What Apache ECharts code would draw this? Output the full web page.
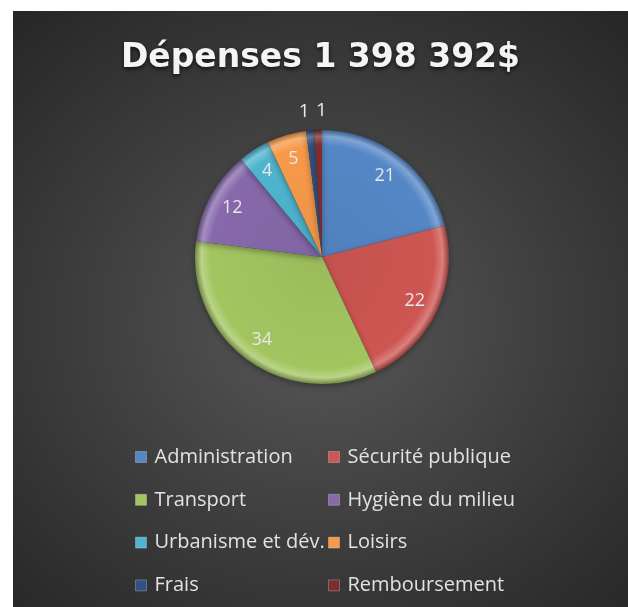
<!DOCTYPE html>
<html>
<head>
<meta charset="utf-8">
<script src="https://cdn.jsdelivr.net/npm/echarts@6/dist/echarts.min.js"></script>
<style>
  html, body { margin: 0; padding: 0; background: #fff; }
  #chart {
    position: absolute; left: 13px; top: 11px; width: 615px; height: 596px;
    background: radial-gradient(ellipse 75% 70% at 50% 52%, #585858 0%, #414141 45%, #262626 100%);
  }
</style>
</head>
<body>
<div id="chart"></div>
<script>
  // données du graphique
  var categories = ['Administration', 'Sécurité publique', 'Transport', 'Hygiène du milieu',
                    'Urbanisme et dév.', 'Loisirs', 'Frais', 'Remboursement'];
  var values = [21, 22, 34, 12, 4, 5, 1, 1];
  var colors = ['#5587c6', '#cd5652', '#a3c560', '#8769ab', '#4fb5cf', '#f79a4a', '#2f5283', '#7d2e2c'];
  var leftCol = ['Administration', 'Transport', 'Urbanisme et dév.', 'Frais'];
  var rightCol = ['Sécurité publique', 'Hygiène du milieu', 'Loisirs', 'Remboursement'];
  var outsideLabels = ['Frais', 'Remboursement'];

  var cx = 309, cy = 246, R = 127;
  var font = '"Open Sans", "Noto Sans", sans-serif';

  function shade(hex, amt) {
    var n = parseInt(hex.slice(1), 16);
    var r = (n >> 16) & 255, g = (n >> 8) & 255, b = n & 255;
    function f(c) { return Math.max(0, Math.min(255, Math.round(amt > 0 ? c + (255 - c) * amt : c * (1 + amt)))); }
    return 'rgb(' + f(r) + ',' + f(g) + ',' + f(b) + ')';
  }

  // effet biseauté approximatif
  function bevel(hex) {
    return {
      type: 'radial', x: cx, y: cy, r: R, global: true,
      colorStops: [
        { offset: 0, color: shade(hex, -0.05) },
        { offset: 0.88, color: hex },
        { offset: 0.95, color: shade(hex, 0.25) },
        { offset: 1, color: shade(hex, -0.3) }
      ]
    };
  }

  var pieData = categories.map(function (name, i) {
    return { name: name, value: values[i], itemStyle: { color: bevel(colors[i]) } };
  });
  var innerLabelData = categories.map(function (name, i) {
    return { name: name, value: values[i], label: { show: outsideLabels.indexOf(name) < 0 } };
  });
  var outerLabelData = categories.map(function (name, i) {
    var k = outsideLabels.indexOf(name);
    return { name: name, value: values[i], label: { show: k >= 0, offset: [k === 0 ? -4 : 4, 0] } };
  });

  function legendItems(list) {
    return list.map(function (name) {
      return { name: name, itemStyle: { color: colors[categories.indexOf(name)], borderColor: 'rgba(255,255,255,0.25)', borderWidth: 1 } };
    });
  }

  var legendBase = {
    orient: 'vertical',
    top: 430,
    icon: 'rect',
    itemWidth: 11,
    itemHeight: 11,
    itemGap: 20.8,
    selectedMode: false,
    textStyle: { color: '#e2e2e2', fontSize: 20, fontFamily: font, lineHeight: 22, padding: [0, 0, 0, 3] }
  };

  var labelStyle = { color: '#e8e8e8', fontSize: 18, fontFamily: font, formatter: '{c}' };

  var chart = echarts.init(document.getElementById('chart'));
  chart.setOption({
    backgroundColor: 'transparent',
    animation: false,
    title: {
      text: 'Dépenses 1 398 392$',
      left: 'center',
      top: 26,
      textStyle: {
        color: '#f4f4f4', fontSize: 33, fontWeight: 'bold', fontFamily: '"DejaVu Sans", sans-serif',
        textShadowColor: 'rgba(0,0,0,0.7)', textShadowBlur: 4, textShadowOffsetY: 2
      }
    },
    legend: [
      Object.assign({}, legendBase, { left: 117, data: legendItems(leftCol) }),
      Object.assign({}, legendBase, { left: 310, data: legendItems(rightCol) })
    ],
    series: [
      {
        type: 'pie',
        center: [cx, cy],
        radius: [0, R],
        startAngle: 90,
        clockwise: true,
        avoidLabelOverlap: false,
        label: { show: false },
        labelLine: { show: false },
        emphasis: { disabled: true },
        itemStyle: { borderWidth: 0, shadowBlur: 6, shadowColor: 'rgba(0,0,0,0.35)', shadowOffsetY: 2 },
        data: pieData
      },
      {
        type: 'pie',
        center: [cx, cy],
        radius: [72, R],
        startAngle: 90,
        silent: true,
        avoidLabelOverlap: false,
        itemStyle: { color: 'transparent' },
        label: Object.assign({ position: 'inside' }, labelStyle),
        labelLine: { show: false },
        labelLayout: { hideOverlap: false },
        emphasis: { disabled: true },
        data: innerLabelData
      },
      {
        type: 'pie',
        center: [cx, cy],
        radius: [132, 154],
        startAngle: 90,
        silent: true,
        avoidLabelOverlap: false,
        itemStyle: { color: 'transparent' },
        label: Object.assign({ position: 'inside' }, labelStyle, { fontSize: 19 }),
        labelLine: { show: false },
        labelLayout: { hideOverlap: false },
        emphasis: { disabled: true },
        data: outerLabelData
      }
    ]
  });
</script>
</body>
</html>
